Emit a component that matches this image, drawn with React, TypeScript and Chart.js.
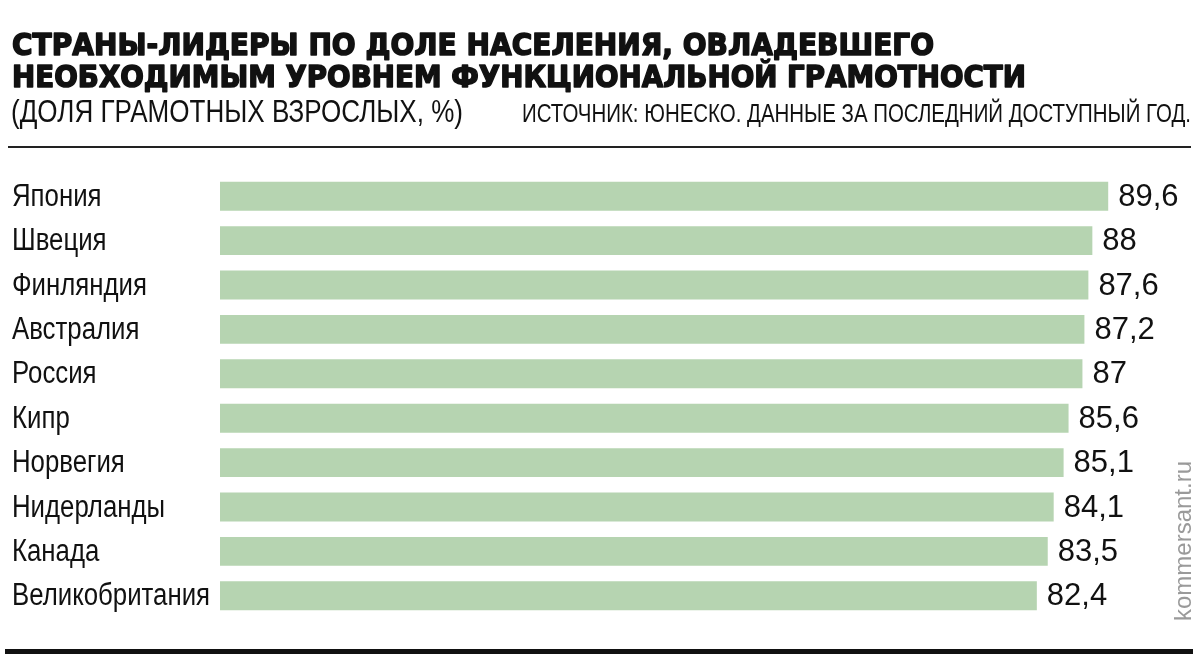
import React, { useEffect, useRef } from "react";
import { Chart, registerables } from "chart.js";

Chart.register(...registerables);

const countries = [
  "Япония",
  "Швеция",
  "Финляндия",
  "Австралия",
  "Россия",
  "Кипр",
  "Норвегия",
  "Нидерланды",
  "Канада",
  "Великобритания",
];
const values = [89.6, 88, 87.6, 87.2, 87, 85.6, 85.1, 84.1, 83.5, 82.4];
const valueLabels = ["89,6", "88", "87,6", "87,2", "87", "85,6", "85,1", "84,1", "83,5", "82,4"];
const titleLines = [
  "СТРАНЫ-ЛИДЕРЫ ПО ДОЛЕ НАСЕЛЕНИЯ, ОВЛАДЕВШЕГО",
  "НЕОБХОДИМЫМ УРОВНЕМ ФУНКЦИОНАЛЬНОЙ ГРАМОТНОСТИ",
];
const subtitle = "(ДОЛЯ ГРАМОТНЫХ ВЗРОСЛЫХ, %)";
const sourceText = "ИСТОЧНИК: ЮНЕСКО. ДАННЫЕ ЗА ПОСЛЕДНИЙ ДОСТУПНЫЙ ГОД.";
const watermark = "kommersant.ru";

const REGULAR = '"Liberation Sans", Arial, sans-serif';

// draw text condensed horizontally so that it spans exactly `width`
function condensedText(ctx: any, text: string, x: number, y: number, width: number, align: string) {
  const w = ctx.measureText(text).width;
  const sx = width / w;
  ctx.save();
  ctx.textAlign = "left";
  const startX = align === "right" ? x - width : x;
  ctx.translate(startX, y);
  ctx.scale(sx, 1);
  ctx.fillText(text, 0, 0);
  ctx.restore();
}

const decorPlugin = {
  id: "decor",
  beforeDraw(chart: any) {
    const ctx = chart.ctx;
    ctx.save();
    ctx.fillStyle = "#ffffff";
    ctx.fillRect(0, 0, chart.width, chart.height);
    ctx.restore();
  },
  afterDraw(chart: any) {
    const ctx = chart.ctx;
    ctx.save();
    ctx.fillStyle = "#111111";
    ctx.strokeStyle = "#111111";
    ctx.lineWidth = 1.6;
    ctx.lineJoin = "round";
    ctx.textBaseline = "alphabetic";
    ctx.textAlign = "left";
    ctx.font = 'bold 31px "DejaVu Sans", sans-serif';
    ctx.fillText(titleLines[0], 12, 55, 922);
    ctx.strokeText(titleLines[0], 12, 55, 922);
    ctx.fillText(titleLines[1], 12, 87, 1014);
    ctx.strokeText(titleLines[1], 12, 87, 1014);

    ctx.font = "31px " + REGULAR;
    condensedText(ctx, subtitle, 11, 122, 452, "left");

    ctx.font = "26px " + REGULAR;
    condensedText(ctx, sourceText, 1191, 122, 669, "right");

    // thin rule under header
    ctx.fillStyle = "#222222";
    ctx.fillRect(8, 146, 1183, 2);
    // thick bottom rule
    ctx.fillStyle = "#111111";
    ctx.fillRect(5, 649, 1188, 5);

    // watermark
    ctx.save();
    ctx.translate(1191, 621);
    ctx.rotate(-Math.PI / 2);
    ctx.fillStyle = "#9a9a9a";
    ctx.font = "24px " + REGULAR;
    condensedText(ctx, watermark, 0, 0, 160, "left");
    ctx.restore();

    ctx.restore();
  },
  afterDatasetsDraw(chart: any) {
    const ctx = chart.ctx;
    const meta = chart.getDatasetMeta(0);
    const yScale = chart.scales.y;
    ctx.save();
    ctx.fillStyle = "#111111";
    ctx.font = "31px " + REGULAR;
    ctx.textAlign = "left";
    ctx.textBaseline = "middle";
    meta.data.forEach((bar: any, i: number) => {
      ctx.fillText(valueLabels[i], bar.x + 10, bar.y + 1);
    });
    // category labels (condensed)
    ctx.font = "31px " + REGULAR;
    const longest = countries.reduce((a, b) => (ctx.measureText(b).width > ctx.measureText(a).width ? b : a));
    const sx = 198 / ctx.measureText(longest).width;
    countries.forEach((c, i) => {
      const y = yScale.getPixelForValue(i);
      ctx.save();
      ctx.translate(12, y + 1);
      ctx.scale(sx, 1);
      ctx.fillText(c, 0, 0);
      ctx.restore();
    });
    ctx.restore();
  },
};

export default function App() {
  const canvasRef = useRef<HTMLCanvasElement | null>(null);

  useEffect(() => {
    const canvas = canvasRef.current;
    if (!canvas) return;
    const chart = new Chart(canvas, {
      type: "bar",
      data: {
        labels: countries,
        datasets: [
          {
            data: values,
            backgroundColor: "#b6d4b1",
            borderWidth: 0,
            barPercentage: 0.65,
            categoryPercentage: 1,
          },
        ],
      },
      options: {
        indexAxis: "y",
        responsive: false,
        devicePixelRatio: 1,
        animation: false,
        layout: { padding: { left: 12, top: 174, bottom: 46, right: 68 } },
        plugins: {
          legend: { display: false },
          tooltip: { enabled: false },
          title: { display: false },
        },
        scales: {
          x: { display: false, min: 0, max: 92 },
          y: {
            type: "category",
            grid: { display: false },
            border: { display: false },
            ticks: { display: false },
            afterFit: (scale: any) => {
              scale.width = 208;
            },
          },
        },
      },
      plugins: [decorPlugin],
    } as any);
    return () => chart.destroy();
  }, []);

  return (
    <div style={{ position: "fixed", left: 0, top: 0, width: 1200, height: 664, background: "#fff" }}>
      <canvas ref={canvasRef} width={1200} height={664} style={{ display: "block" }} />
    </div>
  );
}
